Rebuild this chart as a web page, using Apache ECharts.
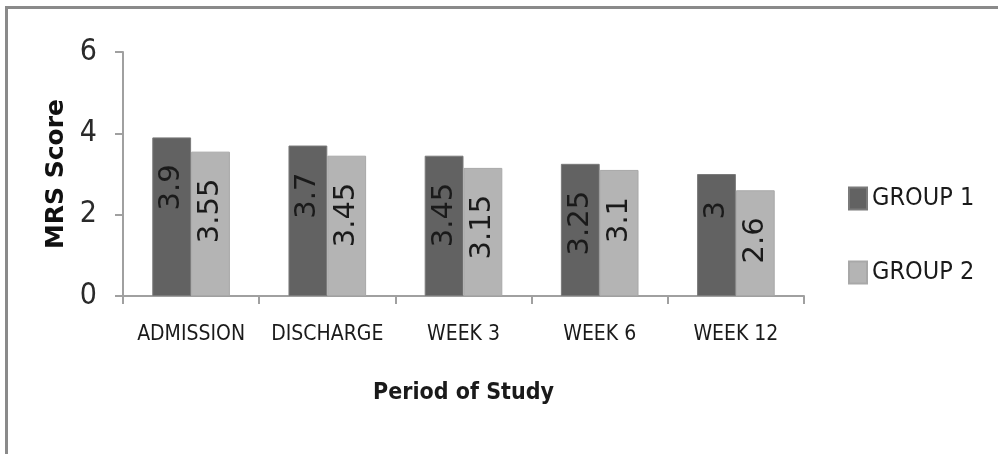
<!DOCTYPE html>
<html>
<head>
<meta charset="utf-8">
<script src="https://cdn.jsdelivr.net/npm/echarts@6/dist/echarts.min.js"></script>
<style>
html,body{margin:0;padding:0;background:#fff;}
#c{width:998px;height:454px;}
</style>
</head>
<body>
<div id="c"></div>
<script>
const categories = ['ADMISSION', 'DISCHARGE', 'WEEK 3', 'WEEK 6', 'WEEK 12'];
const group1 = [3.9, 3.7, 3.45, 3.25, 3];
const group2 = [3.55, 3.45, 3.15, 3.1, 2.6];
const seriesNames = ['GROUP 1', 'GROUP 2'];
const yTicks = [0, 2, 4, 6];

const narrow = "'Liberation Sans Narrow','DejaVu Sans Condensed','Liberation Sans',sans-serif";
const chart = echarts.init(document.getElementById('c'));

const labelCfg = {
  show: true,
  position: 'insideTop',
  rotate: 90,
  align: 'right',
  verticalAlign: 'middle',
  distance: 27,
  fontFamily: 'DejaVu Sans',
  fontSize: 29,
  color: '#1a1a1a',
  formatter: p => String(p.value)
};

chart.setOption({
  animation: false,
  backgroundColor: '#ffffff',
  graphic: [
    { type: 'line', shape: { x1: 6, y1: 7.5, x2: 998, y2: 7.5 }, style: { stroke: '#8a8a8a', lineWidth: 3 } },
    { type: 'line', shape: { x1: 6.5, y1: 6, x2: 6.5, y2: 454 }, style: { stroke: '#8a8a8a', lineWidth: 3 } }
  ],
  grid: { left: 123, right: 194, top: 52, bottom: 158 },
  legend: {
    orient: 'vertical',
    left: 843,
    top: 181,
    itemWidth: 18,
    itemHeight: 22,
    itemGap: 49,
    icon: 'rect',
    textStyle: { fontFamily: narrow, fontSize: 25, color: '#1a1a1a' },
    data: seriesNames
  },
  xAxis: {
    type: 'category',
    data: categories,
    axisLine: { lineStyle: { color: '#a0a0a0', width: 2 } },
    axisTick: { show: true, length: 8, lineStyle: { color: '#a0a0a0', width: 2 } },
    axisLabel: { interval: 0, margin: 28, fontFamily: narrow, fontSize: 21, color: '#1a1a1a' },
    name: 'Period of Study',
    nameLocation: 'middle',
    nameGap: 86,
    nameTextStyle: { fontFamily: narrow, fontSize: 23, fontWeight: 'bold', color: '#1a1a1a' }
  },
  yAxis: {
    type: 'value',
    min: yTicks[0],
    max: yTicks[yTicks.length - 1],
    interval: 2,
    splitLine: { show: false },
    axisLine: { show: true, lineStyle: { color: '#a0a0a0', width: 2 } },
    axisTick: { show: true, length: 8, lineStyle: { color: '#a0a0a0', width: 2 } },
    axisLabel: { margin: 26, fontFamily: narrow, fontSize: 30, color: '#2a2a2a' },
    name: 'MRS Score',
    nameLocation: 'middle',
    nameGap: 49,
    nameTextStyle: { fontFamily: 'DejaVu Sans', fontSize: 25, fontWeight: 'bold', color: '#111' }
  },
  series: [
    {
      name: seriesNames[0], type: 'bar', data: group1,
      barGap: '0%', barCategoryGap: '43%',
      itemStyle: { color: '#626262', borderColor: '#7a7a7a', borderWidth: 1 },
      label: labelCfg
    },
    {
      name: seriesNames[1], type: 'bar', data: group2,
      barGap: '0%', barCategoryGap: '43%',
      itemStyle: { color: '#b4b4b4', borderColor: '#a8a8a8', borderWidth: 1 },
      label: labelCfg
    }
  ]
});
</script>
</body>
</html>
